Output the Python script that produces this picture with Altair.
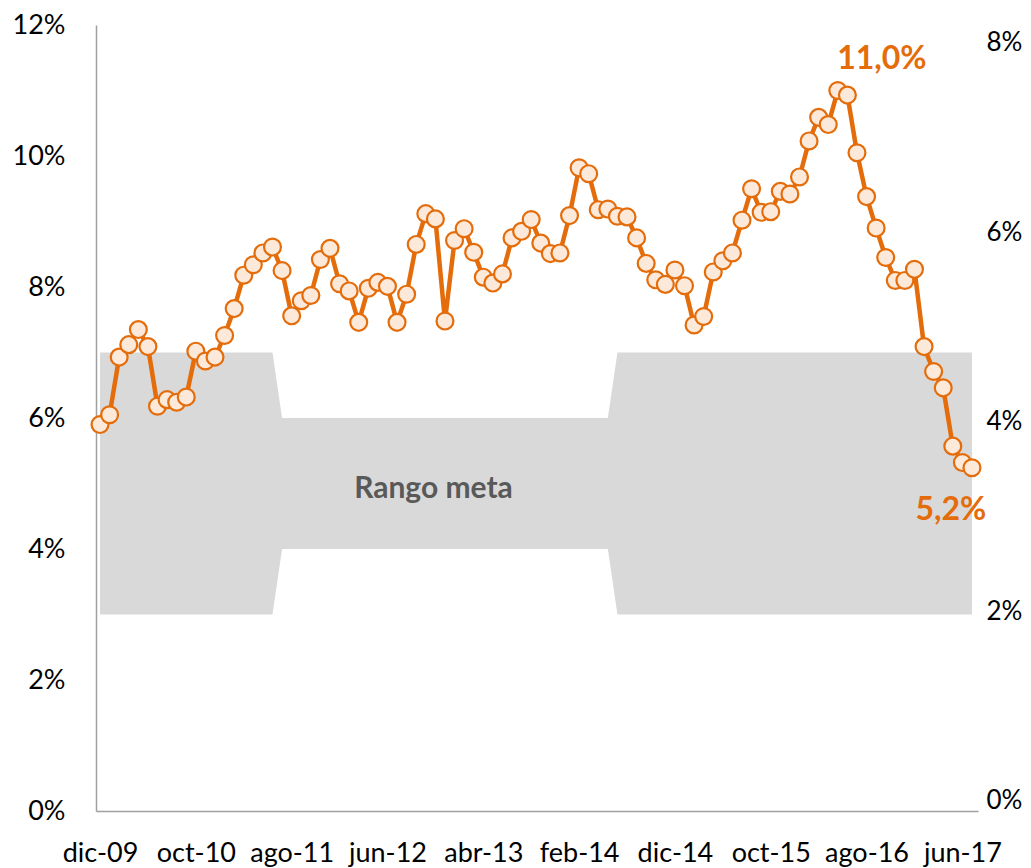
import altair as alt
import pandas as pd

# Monthly inflation (%), dic-09 .. jul-17
inflation = [
    5.90, 6.05, 6.93, 7.12, 7.35, 7.09, 6.18, 6.28, 6.24, 6.32,
    7.02, 6.87, 6.93, 7.26, 7.67, 8.18, 8.34, 8.52, 8.61, 8.25,
    7.56, 7.79, 7.87, 8.42, 8.59, 8.05, 7.94, 7.46, 7.98, 8.07,
    8.01, 7.46, 7.89, 8.65, 9.12, 9.04, 7.48, 8.71, 8.89, 8.53,
    8.15, 8.06, 8.20, 8.75, 8.85, 9.03, 8.67, 8.51, 8.52, 9.09,
    9.82, 9.73, 9.18, 9.19, 9.08, 9.07, 8.75, 8.36, 8.11, 8.04,
    8.26, 8.02, 7.42, 7.55, 8.23, 8.40, 8.52, 9.02, 9.50, 9.14,
    9.15, 9.46, 9.42, 9.68, 10.23, 10.59, 10.48, 11.00, 10.93, 10.05,
    9.38, 8.90, 8.45, 8.10, 8.10, 8.27, 7.09, 6.71, 6.46, 5.57,
    5.32, 5.24,
]

# Target range (Rango meta) per month
band_low = [3] * 19 + [4] * 35 + [3] * 38
band_high = [7] * 19 + [6] * 35 + [7] * 38

# X tick labels every 10 months
tick_pos = [0, 10, 20, 30, 40, 50, 60, 70, 80, 90]
tick_labels = ["dic-09", "oct-10", "ago-11", "jun-12", "abr-13",
               "feb-14", "dic-14", "oct-15", "ago-16", "jun-17"]

left_ticks = [0, 2, 4, 6, 8, 10, 12]
right_ticks = [0, 2, 4, 6, 8]

# annotations
ann_idx = [81.6, 88.8]
ann_val = [11.48, 4.6]
ann_txt = ["11,0%", "5,2%"]
band_label_idx = [34.8]
band_label_val = [4.92]
band_label_txt = ["Rango meta"]

ORANGE = "#E46C0A"
FONT = "Lato"

df = pd.DataFrame({
    "i": list(range(len(inflation))),
    "value": inflation,
    "low": band_low,
    "high": band_high,
})
ann = pd.DataFrame({"i": ann_idx, "v": ann_val, "t": ann_txt})
bl = pd.DataFrame({"i": band_label_idx, "v": band_label_val, "t": band_label_txt})

label_arr = "[" + ",".join("'%s'" % s for s in tick_labels) + "]"
x_axis = alt.Axis(
    values=tick_pos, labelExpr=label_arr + "[round(datum.value/10)]",
    title=None, ticks=False, grid=False, domainColor="#A0A0A0", domainWidth=1.5,
    labelFont=FONT, labelFontSize=27, labelColor="#000000", labelPadding=29,
    labelFlush=False, labelOverlap=False,
)
x_scale = alt.Scale(domain=[-0.42, 91.63], nice=False, zero=False)
y_scale = alt.Scale(domain=[0, 12], nice=False)
y_axis = alt.Axis(
    values=left_ticks, labelExpr="datum.value + '%'", title=None, ticks=False,
    grid=False, domainColor="#A0A0A0", domainWidth=1.5, labelFont=FONT,
    labelFontSize=27, labelColor="#000000", labelPadding=31,
)

X = alt.X("i:Q", scale=x_scale, axis=x_axis)

base = alt.Chart(df)
area = base.mark_area(color="#D9D9D9", opacity=1, interpolate="linear").encode(
    x=X, y=alt.Y("low:Q", scale=y_scale, axis=y_axis), y2="high:Q"
)
line = base.mark_line(color=ORANGE, strokeWidth=4.5).encode(
    x=X, y=alt.Y("value:Q", scale=y_scale, axis=y_axis)
)
pts = base.mark_point(shape="circle", filled=False, fill="#FDE9D9", stroke=ORANGE,
                      strokeWidth=2.2, size=285, opacity=1, fillOpacity=1).encode(
    x=X, y=alt.Y("value:Q", scale=y_scale, axis=y_axis)
)
ann_text = alt.Chart(ann).mark_text(font=FONT, fontSize=32, fontWeight="bold",
                                    color=ORANGE, baseline="middle", align="center").encode(
    x=X, y=alt.Y("v:Q", scale=y_scale, axis=y_axis), text="t:N"
)
band_text = alt.Chart(bl).mark_text(font=FONT, fontSize=30, fontWeight="bold",
                                    color="#595959", baseline="middle", align="center").encode(
    x=X, y=alt.Y("v:Q", scale=y_scale, axis=y_axis), text="t:N"
)

left = alt.layer(area, line, pts, ann_text, band_text)

right = base.mark_point(opacity=0).encode(
    x=X,
    y=alt.Y("low:Q", scale=alt.Scale(domain=[-0.11, 8.19], nice=False),
            axis=alt.Axis(orient="right", values=right_ticks, labelExpr="datum.value + '%'",
                          title=None, ticks=False, grid=False, domain=False,
                          labelFont=FONT, labelFontSize=26, labelColor="#000000",
                          labelPadding=8)),
)

chart = alt.layer(left, right).resolve_scale(y="independent").properties(
    width=882, height=786,
    autosize=alt.AutoSizeParams(type="none"),
    padding={"left": 88, "top": 17, "right": 45, "bottom": 60},
).configure_view(stroke=None)

chart.save("out.html", embed_options={"renderer": "svg", "actions": False})
